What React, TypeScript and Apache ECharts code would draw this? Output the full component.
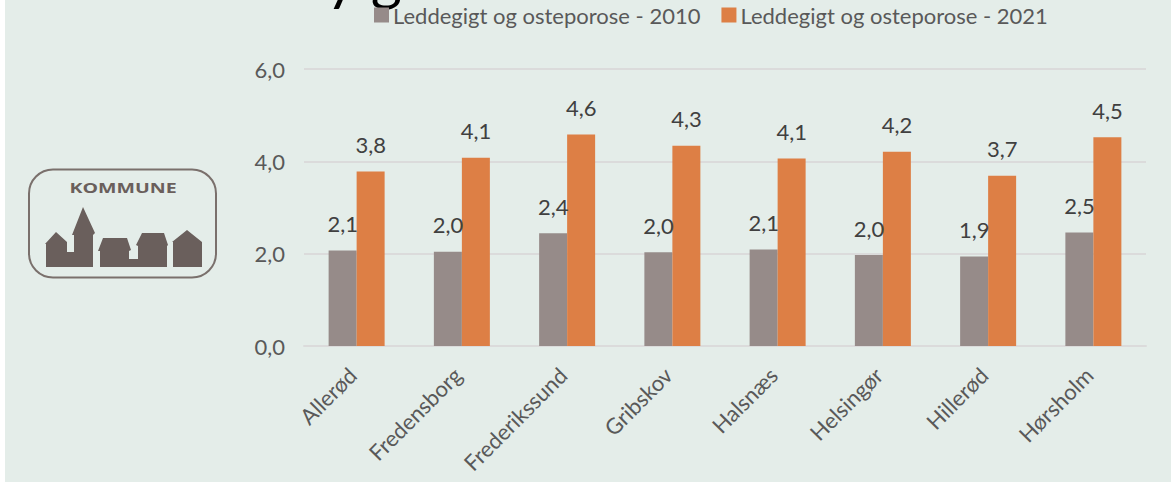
import React, { useEffect, useRef } from "react";
import * as echarts from "echarts";

const categories = ["Allerød", "Fredensborg", "Frederikssund", "Gribskov", "Halsnæs", "Helsingør", "Hillerød", "Hørsholm"];
const series2010 = [2.07, 2.04, 2.44, 2.03, 2.09, 1.97, 1.94, 2.46];
const series2021 = [3.78, 4.08, 4.58, 4.34, 4.06, 4.21, 3.69, 4.52];
const seriesNames = ["Leddegigt og osteporose - 2010", "Leddegigt og osteporose - 2021"];
const colors = ["#968B89", "#DD7F45"];
const FONT = "Lato";

const fmt = (v: number) => v.toFixed(1).replace(".", ",");

export default function App() {
  const ref = useRef<HTMLDivElement>(null);
  useEffect(() => {
    const chart = echarts.init(ref.current!, null, { renderer: "svg" });
    const logoFill = "#6A5F5C";
    const makeBar = (name: string, data: number[], color: string) => ({
      name,
      type: "bar" as const,
      data,
      barWidth: 28,
      barGap: "0%",
      itemStyle: { color },
      label: {
        show: true,
        position: "top" as const,
        distance: 16,
        fontFamily: FONT,
        fontSize: 22,
        color: "#404040",
        formatter: (p: any) => fmt(p.value),
      },
    });
    chart.setOption({
      animation: false,
      textStyle: { fontFamily: FONT },
      legend: {
        left: 369,
        top: -1,
        itemWidth: 15,
        itemHeight: 15,
        itemGap: 21,
        icon: "rect",
        selectedMode: false,
        textStyle: { fontFamily: FONT, fontSize: 22, color: "#595959", padding: [0, 0, 0, -1] },
        data: seriesNames,
      },
      grid: { left: 304, right: 25, top: 69, bottom: 136 },
      xAxis: {
        type: "category",
        data: categories,
        axisLine: { lineStyle: { color: "#DBDBDB", width: 2 } },
        axisTick: { show: false },
        axisLabel: { rotate: 45, interval: 0, margin: 21, padding: [0, 6, 0, 0], fontFamily: FONT, fontSize: 22, color: "#595959" },
      },
      yAxis: {
        type: "value",
        min: 0,
        max: 6,
        interval: 2,
        axisLine: { show: false },
        axisTick: { show: false },
        splitLine: { lineStyle: { color: "#DBDBDB", width: 2 } },
        axisLabel: { margin: 19, fontFamily: FONT, fontSize: 22, color: "#595959", formatter: (v: number) => fmt(v) },
      },
      series: [makeBar(seriesNames[0], series2010, colors[0]), makeBar(seriesNames[1], series2021, colors[1])],
      graphic: [
        { type: "rect", z: -10, silent: true, shape: { x: 5, y: 0, width: 1166, height: 482 }, style: { fill: "#E4EDE9" } },
        { type: "text", x: 326, y: -54, style: { text: "y g", fontFamily: FONT, fontSize: 60, fill: "#000000" } },
        {
          type: "rect",
          shape: { x: 29, y: 169.5, width: 187, height: 108, r: 24 },
          style: { fill: "none", stroke: "#7A706C", lineWidth: 2 },
        },
        {
          type: "text",
          x: 123,
          y: 188,
          scaleX: 1.4,
          style: { text: "KOMMUNE", fontFamily: "Open Sans", fontWeight: "bold", fontSize: 14, fill: logoFill, align: "center", verticalAlign: "middle" },
        },
        {
          type: "polygon",
          shape: { points: [[45, 244], [56, 232], [67, 242], [67, 252], [74, 252], [74, 235], [72, 235], [83, 207], [95, 233], [93, 235], [93, 267], [46, 267], [46, 244]] },
          style: { fill: logoFill },
        },
        {
          type: "polygon",
          shape: { points: [[98, 251], [103, 238], [127, 238], [131, 250], [129, 251], [129, 259], [138, 259], [138, 246], [136, 245], [142, 233], [164, 233], [168, 245], [167, 246], [167, 267], [100, 267], [100, 251]] },
          style: { fill: logoFill },
        },
        {
          type: "polygon",
          shape: { points: [[172, 242], [187, 230], [202, 242], [202, 267], [173, 267], [173, 242]] },
          style: { fill: logoFill },
        },
      ],
    });
    return () => chart.dispose();
  }, []);
  return (
    <div style={{ position: "fixed", left: 0, top: 0, width: 1171, height: 482, background: "#ffffff" }}>
      <div ref={ref} style={{ width: 1171, height: 482 }} />
    </div>
  );
}
